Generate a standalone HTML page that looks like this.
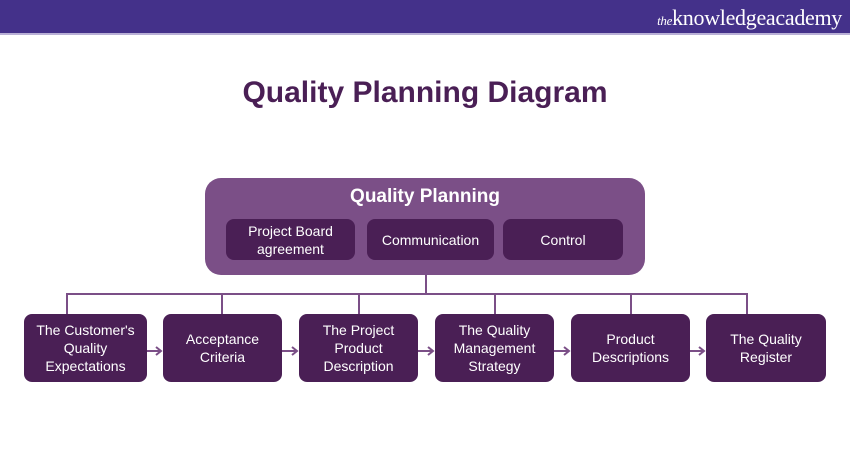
<!DOCTYPE html>
<html><head><style>
*{margin:0;padding:0;box-sizing:border-box}
body{width:850px;height:450px;background:#fff;position:relative;overflow:hidden;font-family:"Liberation Sans",sans-serif}
.hdr{position:absolute;left:0;top:0;width:850px;height:35px;background:#44318a;border-bottom:2px solid #b9b0d6}
.logo{position:absolute;right:8px;top:5px;color:#fff;font-family:"Liberation Serif",serif;font-size:22px;letter-spacing:-0.3px}
.logo i{font-size:13px}
h1{position:absolute;top:76px;left:0;width:850px;text-align:center;color:#4a1f55;font-size:30px;font-weight:bold}
.b{position:absolute;display:flex;align-items:center;justify-content:center;text-align:center;color:#fff;background:#4a1f55;border-radius:8px;font-size:14px;line-height:18px}
.top{position:absolute;left:205px;top:178px;width:440px;height:97px;background:#7b4f87;border-radius:16px}
.tt{position:absolute;left:205px;top:186px;width:440px;text-align:center;color:#fff;font-size:19px;font-weight:bold}
.l{position:absolute;background:#7b4f87}
</style></head><body>
<div class="hdr"><div class="logo"><i>the</i>knowledgeacademy</div></div>
<h1>Quality Planning Diagram</h1>
<div class="top"></div>
<div class="tt">Quality Planning</div>
<div class="b" style="left:226px;top:219px;width:129px;height:41px">Project Board<br>agreement</div>
<div class="b" style="left:367px;top:219px;width:127px;height:41px">Communication</div>
<div class="b" style="left:503px;top:219px;width:120px;height:41px">Control</div>
<div class="l" style="left:425px;top:275px;width:2px;height:20px"></div>
<div class="l" style="left:66px;top:293px;width:682px;height:2px"></div>
<div class="l" style="left:66px;top:293px;width:2px;height:21px"></div>
<div class="l" style="left:221px;top:293px;width:2px;height:21px"></div>
<div class="l" style="left:358px;top:293px;width:2px;height:21px"></div>
<div class="l" style="left:494px;top:293px;width:2px;height:21px"></div>
<div class="l" style="left:630px;top:293px;width:2px;height:21px"></div>
<div class="l" style="left:746px;top:293px;width:2px;height:21px"></div>
<div class="b" style="left:24px;top:314px;width:123px;height:68px">The Customer's<br>Quality<br>Expectations</div>
<div class="b" style="left:163px;top:314px;width:119px;height:68px">Acceptance<br>Criteria</div>
<div class="b" style="left:299px;top:314px;width:119px;height:68px">The Project<br>Product<br>Description</div>
<div class="b" style="left:435px;top:314px;width:119px;height:68px">The Quality<br>Management<br>Strategy</div>
<div class="b" style="left:571px;top:314px;width:119px;height:68px">Product<br>Descriptions</div>
<div class="b" style="left:706px;top:314px;width:120px;height:68px">The Quality<br>Register</div>
<svg style="position:absolute;left:0;top:0" width="850" height="450">
<g stroke="#7b4f87" stroke-width="2" fill="none">
<path d="M147 351H161M156 347L161 351L156 355"/>
<path d="M282 351H297M292 347L297 351L292 355"/>
<path d="M418 351H433M428 347L433 351L428 355"/>
<path d="M554 351H569M564 347L569 351L564 355"/>
<path d="M690 351H704M699 347L704 351L699 355"/>
</g></svg>
</body></html>
